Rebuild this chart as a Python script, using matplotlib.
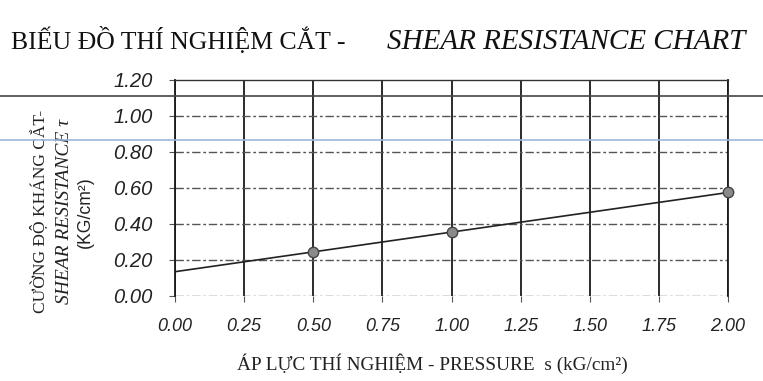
import matplotlib
matplotlib.use("Agg")
import matplotlib.pyplot as plt
import matplotlib.ticker as ticker
import numpy as np
from matplotlib.lines import Line2D

# Thí nghiệm cắt: áp lực (kG/cm2) và cường độ kháng cắt (kG/cm2)
ap_luc = [0.5, 1.0, 2.0]
khang_cat = [0.245, 0.355, 0.575]

x_ticks = [0.00, 0.25, 0.50, 0.75, 1.00, 1.25, 1.50, 1.75, 2.00]
y_ticks = [0.00, 0.20, 0.40, 0.60, 0.80, 1.00, 1.20]

# duong hoi quy tuyen tinh (trendline)
a, b = np.polyfit(ap_luc, khang_cat, 1)
t = np.array([0.0, 2.0])

fig = plt.figure(figsize=(7.63, 3.81), dpi=100)
ax = fig.add_axes([0.2294, 0.2231, 0.7248, 0.567])

ax.plot(t, a * t + b, color="#222222", lw=1.2, zorder=3)
ax.plot(ap_luc, khang_cat, "o", ms=7.5, mfc="#8a8a8a", mec="#444444", mew=1.0, zorder=4, clip_on=False)

ax.set_xlim(0, 2)
ax.set_ylim(0, 1.2)
ax.set_xticks(x_ticks)
ax.set_yticks(y_ticks)
ax.xaxis.set_major_formatter(ticker.FormatStrFormatter("%.2f"))
ax.yaxis.set_major_formatter(ticker.FormatStrFormatter("%.2f"))

# luoi: doc dam, ngang net dut
for v in x_ticks:
    ax.axvline(v, color="#1a1a1a", lw=1.3, zorder=1)
for v in y_ticks[:-1]:
    ax.axhline(v, color="#555555", lw=1.0, ls=(0, (6, 2, 2, 2)), zorder=1)

for s in ["left", "right"]:
    ax.spines[s].set_linewidth(1.3)
    ax.spines[s].set_color("#1a1a1a")
ax.spines["top"].set_linewidth(1.0)
ax.spines["top"].set_color("#333333")
ax.spines["bottom"].set_visible(False)

ax.tick_params(axis="both", length=4, width=0.8, color="#555555", labelcolor="#222222")
ax.tick_params(axis="x", pad=12, labelsize=13)
ax.tick_params(axis="y", pad=12, labelsize=14.5)
for lb in ax.get_xticklabels() + ax.get_yticklabels():
    lb.set_fontstyle("italic")
    lb.set_family("Liberation Sans")

serif = "Liberation Serif"

# tieu de
fig.text(0.015, 0.871, "BIẾU ĐỒ THÍ NGHIỆM CẮT -", fontsize=18.5, family=serif,
         color="#111111", ha="left", va="baseline")
fig.text(0.507, 0.871, "SHEAR RESISTANCE CHART", fontsize=21, family=serif,
         style="italic", color="#111111", ha="left", va="baseline")

# nhan truc y (3 dong)
fig.text(0.052, 0.444, "CƯỜNG ĐỘ KHÁNG CẮT-", rotation=90, fontsize=12.5, family=serif,
         ha="center", va="center", color="#222222")
fig.text(0.084, 0.444, "SHEAR RESISTANCE τ", rotation=90, fontsize=14, family=serif,
         style="italic", ha="center", va="center", color="#222222")
fig.text(0.112, 0.444, "(KG/cm²)", rotation=90, fontsize=12.7, family="Liberation Sans",
         ha="center", va="center", color="#222222")

# nhan truc x
fig.text(0.567, 0.029, "ÁP LỰC THÍ NGHIỆM - PRESSURE  s (kG/cm²)", fontsize=13.9, family=serif,
         ha="center", va="baseline", color="#222222")

# vet ke ngang tren trang giay
fig.add_artist(Line2D([0, 1], [1 - 96 / 381] * 2, transform=fig.transFigure,
                      color="#444444", lw=1.2, zorder=5))
fig.add_artist(Line2D([0, 1], [1 - 140 / 381] * 2, transform=fig.transFigure,
                      color="#9db8d8", lw=1.2, zorder=5))

fig.savefig("out.png", dpi=100)
